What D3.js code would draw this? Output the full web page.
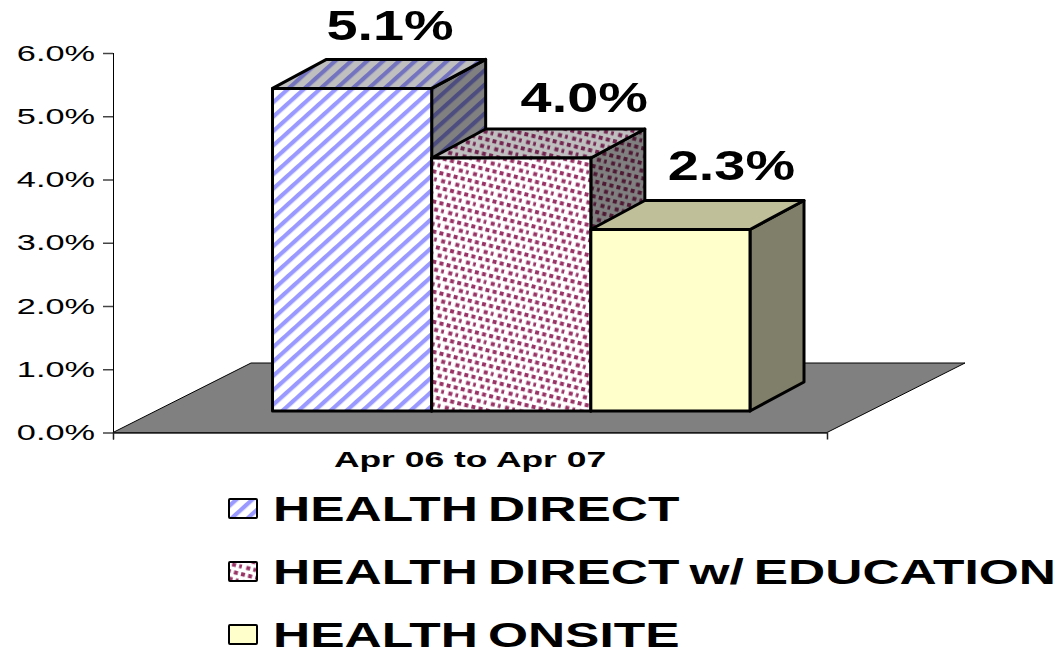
<!DOCTYPE html>
<html lang="en">
<head>
<meta charset="UTF-8">
<title>Apr 06 to Apr 07</title>
<script src="https://d3js.org/d3.v7.min.js"></script>
<style>
  html, body { margin: 0; background: #fff; overflow: hidden; }
  svg { display: block; }
  text { font-family: "Liberation Sans", Arial, sans-serif; fill: #000; }
</style>
</head>
<body>
<div id="chart"></div>
<script>
// values
var category = ['Apr 06 to Apr 07'];
var seriesNames = ['HEALTH DIRECT', 'HEALTH DIRECT w/ EDUCATION', 'HEALTH ONSITE'];
// the printed label of the third bar (2.3%) does not agree with its drawn height (about 2.87)
var barValues = [5.1, 4.0, 2.87];
var barLabels = ['5.1%', '4.0%', '2.3%'];
var yTicks = [0, 1, 2, 3, 4, 5, 6];

var width = 1061, height = 650;
var depthX = 54, depthY = 29;      // 3d offset of a bar
var floorX = 138, floorY = 69.5;   // 3d offset of the floor
var floorInset = 21.5;             // bars stand this far above the front edge of the floor
var labelNudge = [38, 73, 61];     // label centre, from the bar centre
var labelLift = [19, 17, 20];      // label baseline, above the back edge of the top face

var svg = d3.select('#chart').append('svg')
    .attr('width', width)
    .attr('height', height);

var y = d3.scaleLinear().domain([0, 6]).range([432.5, 53]);
var xCat = d3.scaleBand().domain(category).range([113, 827]);
var xBar = d3.scaleBand().domain(seriesNames).range([272.5, 750]);

// patterns: front face, top face (darker) and side face (darkest)
var defs = svg.append('defs');
function stripes(id, bg, fg) {
    var p = defs.append('pattern').attr('id', id)
        .attr('patternUnits', 'userSpaceOnUse')
        .attr('width', 10.7).attr('height', 10.7)
        .attr('patternTransform', 'rotate(48)');
    p.append('rect').attr('width', 10.7).attr('height', 10.7).attr('fill', bg);
    p.append('rect').attr('width', 4.2).attr('height', 10.7).attr('fill', fg);
}
function dots(id, bg, fg) {
    var p = defs.append('pattern').attr('id', id)
        .attr('patternUnits', 'userSpaceOnUse')
        .attr('width', 14.6).attr('height', 14.6)
        .attr('patternTransform', 'rotate(14)');
    p.append('rect').attr('width', 14.6).attr('height', 14.6).attr('fill', bg);
    [[1, 1], [8.3, 1], [4.6, 8.3], [11.9, 8.3]].forEach(function(c) {
        p.append('rect').attr('x', c[0]).attr('y', c[1])
            .attr('width', 4).attr('height', 4).attr('fill', fg);
    });
}
stripes('s0', '#ffffff', '#9999ff');
stripes('s0top', '#bfbfbf', '#7373bf');
stripes('s0side', '#808080', '#4d4d80');
dots('s1', '#ffffff', '#993366');
dots('s1top', '#bfbfbf', '#732650');
dots('s1side', '#808080', '#4d1933');

var fills = [
    { front: 'url(#s0)', top: 'url(#s0top)', side: 'url(#s0side)' },
    { front: 'url(#s1)', top: 'url(#s1top)', side: 'url(#s1side)' },
    { front: '#ffffcc', top: '#bfbf99', side: '#80806a' }
];

// floor
var fl = xCat.range()[0], fr = xCat.range()[1], fy = y(0);
svg.append('path')
    .attr('d', d3.line()([[fl, fy], [fl + floorX, fy - floorY], [fr + floorX, fy - floorY], [fr, fy]]) + 'Z')
    .attr('fill', '#808080')
    .attr('stroke', '#000')
    .attr('stroke-width', 1);

// axes
var stretchTick = 1.56;
var yAxis = svg.append('g')
    .attr('transform', 'translate(' + fl + ',0)')
    .call(d3.axisLeft(y).tickValues(yTicks).tickSize(10).tickSizeOuter(0)
        .tickFormat(function(d) { return d.toFixed(1) + '%'; }));
yAxis.select('.domain').attr('stroke', '#000').attr('d', 'M0.5,' + y(6) + 'V' + (y(0) + 7));
yAxis.selectAll('.tick line').attr('stroke', '#444').attr('stroke-width', 1.5);
yAxis.selectAll('.tick text')
    .attr('x', -18 / stretchTick)
    .attr('transform', 'scale(' + stretchTick + ',1)')
    .style('font-size', '22px');

var stretchCat = 1.61;
var xAxis = svg.append('g')
    .attr('transform', 'translate(0,' + fy + ')')
    .call(d3.axisBottom(xCat).tickSizeInner(0).tickSizeOuter(7));
xAxis.select('.domain').attr('stroke', '#222').attr('stroke-width', 1.5);
xAxis.selectAll('.tick text')
    .attr('y', 19)
    .attr('transform', 'scale(' + stretchCat + ',1)')
    .style('font-size', '22px')
    .style('font-weight', 'bold');

// bars, drawn left to right so the next one covers the previous side face
var bars = svg.selectAll('g.bar')
    .data(seriesNames)
    .enter().append('g')
    .attr('class', 'bar')
    .attr('stroke', '#000')
    .attr('stroke-width', 3)
    .attr('stroke-linejoin', 'round');

bars.each(function(name, i) {
    var g = d3.select(this);
    var x0 = xBar(name), x1 = x0 + xBar.bandwidth();
    var top = y(barValues[i]) - floorInset, base = y(0) - floorInset;
    var poly = d3.line();
    g.append('path')
        .attr('d', poly([[x1, top], [x1 + depthX, top - depthY], [x1 + depthX, base - depthY], [x1, base]]) + 'Z')
        .attr('fill', fills[i].side);
    g.append('path')
        .attr('d', poly([[x0, top], [x0 + depthX, top - depthY], [x1 + depthX, top - depthY], [x1, top]]) + 'Z')
        .attr('fill', fills[i].top);
    g.append('rect')
        .attr('x', x0).attr('y', top)
        .attr('width', x1 - x0).attr('height', base - top)
        .attr('fill', fills[i].front);
});

// value labels above the bars
var stretchLabel = 1.33;
svg.selectAll('text.value')
    .data(barLabels)
    .enter().append('text')
    .attr('class', 'value')
    .attr('text-anchor', 'middle')
    .attr('transform', function(d, i) {
        var cx = xBar(seriesNames[i]) + xBar.bandwidth() / 2 + labelNudge[i];
        var by = y(barValues[i]) - floorInset - depthY - labelLift[i];
        return 'translate(' + cx + ',' + by + ') scale(' + stretchLabel + ',1)';
    })
    .style('font-size', '42px')
    .style('font-weight', 'bold')
    .text(function(d) { return d; });

// legend
var legendY = d3.scalePoint().domain(seriesNames).range([508, 634]);
var stretchLegend = 1.43;
var legend = svg.selectAll('g.legend')
    .data(seriesNames)
    .enter().append('g')
    .attr('class', 'legend')
    .attr('transform', function(d) { return 'translate(0,' + legendY(d) + ')'; });
legend.append('rect')
    .attr('x', 229).attr('y', -9)
    .attr('width', 28).attr('height', 19)
    .attr('rx', 1)
    .attr('stroke', '#000').attr('stroke-width', 2)
    .attr('fill', function(d, i) { return fills[i].front; });
legend.append('text')
    .attr('transform', 'translate(273,13) scale(' + stretchLegend + ',1)')
    .style('font-size', '36px')
    .style('font-weight', 'bold')
    .style('word-spacing', '-3px')
    .text(function(d) { return d; });
</script>
</body>
</html>
